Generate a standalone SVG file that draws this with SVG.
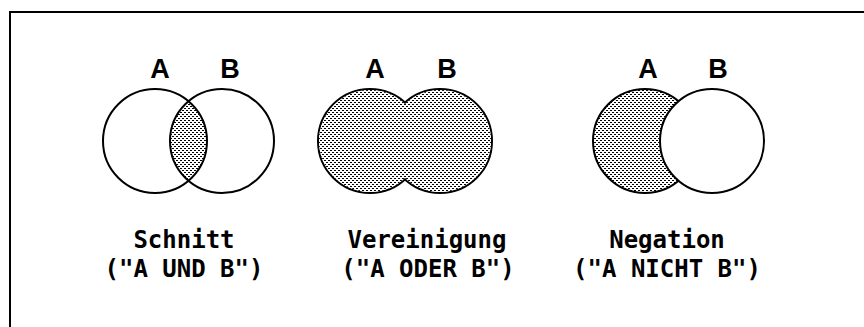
<svg xmlns="http://www.w3.org/2000/svg" width="864" height="327" viewBox="0 0 864 327">
<style>
.o{stroke:#000;stroke-width:2}
.ab{font-family:"Liberation Sans",Arial,sans-serif;font-weight:bold;font-size:27px;text-anchor:middle;fill:#000}
.t{font-family:"DejaVu Sans Mono","Liberation Mono",monospace;font-weight:bold;font-size:24px;text-anchor:middle;fill:#000}
</style>
<defs>
<pattern id="dots" width="4" height="4" patternUnits="userSpaceOnUse">
<rect width="4" height="4" fill="#fff"/>
<rect x="0" y="0" width="2" height="1" fill="#000"/>
<rect x="2" y="2" width="2" height="1" fill="#000"/>
</pattern>
<clipPath id="clipA1"><circle cx="155" cy="141" r="52"/></clipPath>
</defs>
<rect width="864" height="327" fill="#fff"/>
<path d="M10,327 V12 H864" fill="none" stroke="#000" stroke-width="2"/>

<g id="schnitt">
<circle cx="222" cy="141" r="52" fill="url(#dots)" clip-path="url(#clipA1)"/>
<circle class="o" cx="155" cy="141" r="52" fill="none"/>
<circle class="o" cx="222" cy="141" r="52" fill="none"/>
<text class="ab" x="160" y="78">A</text>
<text class="ab" x="230" y="78">B</text>
<text class="t" x="184" y="248">Schnitt</text>
<text class="t" x="184" y="277">("A UND B")</text>
</g>

<g id="vereinigung">
<circle class="o" cx="370" cy="141" r="52" fill="none"/>
<circle class="o" cx="440" cy="141" r="52" fill="none"/>
<circle cx="370" cy="141" r="51" fill="url(#dots)"/>
<circle cx="440" cy="141" r="51" fill="url(#dots)"/>
<text class="ab" x="375" y="78">A</text>
<text class="ab" x="447" y="78">B</text>
<text class="t" x="427" y="248">Vereinigung</text>
<text class="t" x="428" y="277">("A ODER B")</text>
</g>

<g id="negation">
<circle class="o" cx="645" cy="141" r="52" fill="url(#dots)"/>
<circle class="o" cx="712" cy="141" r="52" fill="#fff"/>
<text class="ab" x="648" y="78">A</text>
<text class="ab" x="718" y="78">B</text>
<text class="t" x="667" y="248">Negation</text>
<text class="t" x="667" y="277">("A NICHT B")</text>
</g>
</svg>
